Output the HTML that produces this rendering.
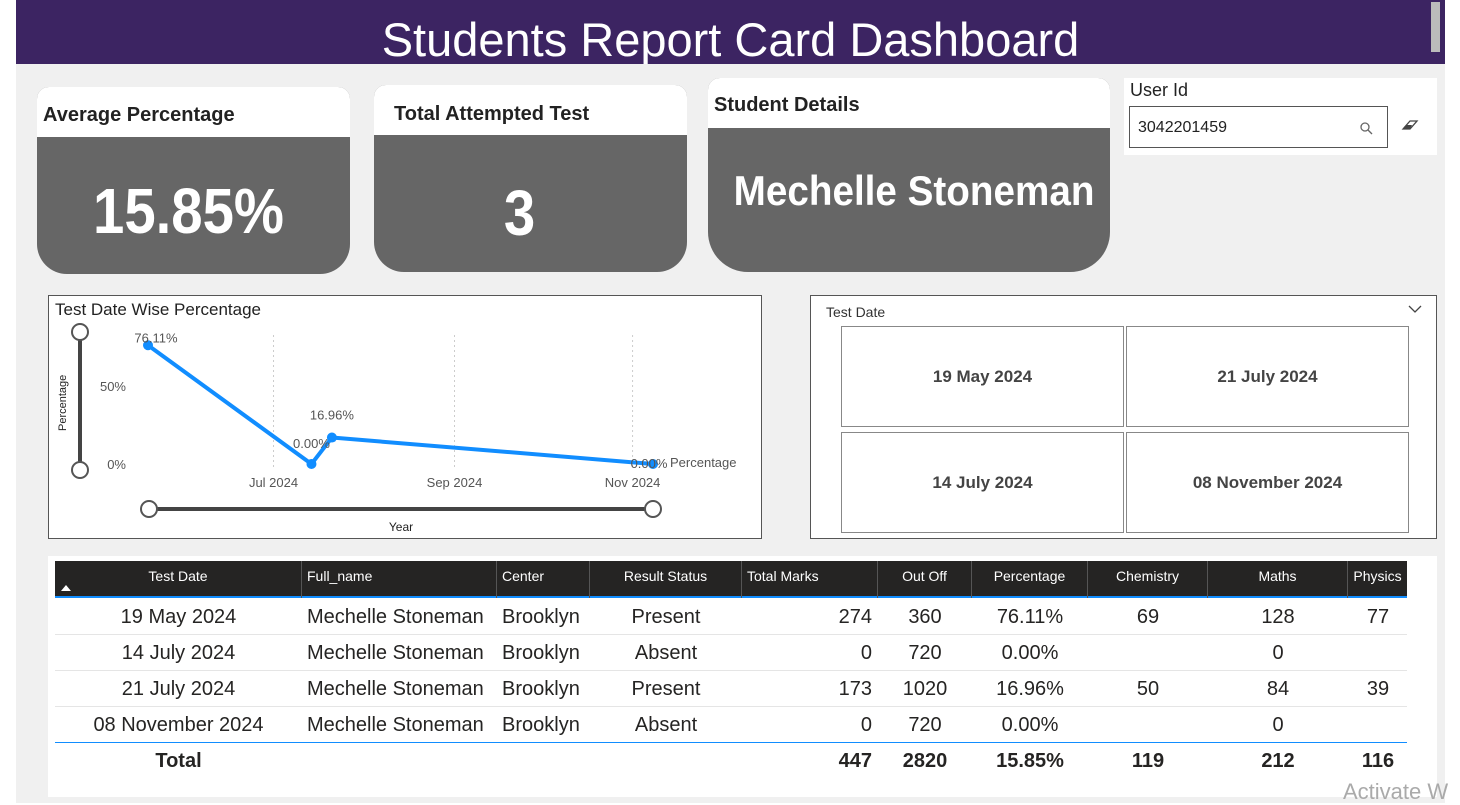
<!DOCTYPE html>
<html><head><meta charset="utf-8"><style>
*{box-sizing:border-box;margin:0;padding:0}
body{width:1460px;height:803px;background:#fff;font-family:"Liberation Sans","DejaVu Sans",sans-serif;position:relative;overflow:hidden}
.abs{position:absolute}
.canvas{left:16px;top:0;width:1429px;height:803px;background:#f0f0f0}
.hdr{left:16px;top:0;width:1429px;height:64px;background:#3c2462;color:#fff;font-size:47px;text-align:center;line-height:80px;overflow:hidden}
.card{background:#666;color:#fff;overflow:hidden}
.card .t{background:#fff;color:#222;font-weight:bold;font-size:20px;padding-left:6px}
.big{font-weight:bold;text-align:center;white-space:nowrap}
.th{position:absolute;top:0;height:37px;line-height:30px;color:#fff;font-size:14px;border-right:1px solid #555}
.td{position:absolute;font-size:20px;color:#252423;height:36px;line-height:36px;white-space:nowrap}
.tile{position:absolute;background:#fff;border:1px solid #888;font-weight:bold;font-size:17px;color:#444;text-align:center;line-height:100px}
</style></head><body>
<div class="abs canvas"></div>
<div class="abs hdr">Students Report Card Dashboard</div>
<div class="abs" style="left:1431px;top:2px;width:9px;height:50px;background:#bbb"></div>

<div class="abs card" style="left:37px;top:87px;width:313px;height:187px;border-radius:12px 12px 30px 30px">
<div class="t" style="height:50px;line-height:56px">Average Percentage</div>
<div class="big" style="font-size:64px;line-height:140px;margin-top:4px;transform:scaleX(0.88);margin-left:-10px">15.85%</div></div>
<div class="abs card" style="left:374px;top:85px;width:313px;height:187px;border-radius:12px 12px 30px 30px">
<div class="t" style="height:50px;line-height:58px;padding-left:20px">Total Attempted Test</div>
<div class="big" style="font-size:64px;line-height:160px;margin-top:-2px;transform:scaleX(0.88);margin-left:-22px">3</div></div>
<div class="abs card" style="left:708px;top:78px;width:402px;height:194px;border-radius:12px 12px 40px 40px">
<div class="t" style="height:50px;line-height:54px">Student Details</div>
<div class="big" style="font-size:42px;line-height:126px;margin-top:0px;transform:scaleX(0.92);margin-left:10px">Mechelle Stoneman</div></div>

<div class="abs" style="left:1124px;top:78px;width:313px;height:77px;background:#fff">
<div class="abs" style="left:6px;top:2px;font-size:18px;color:#222">User Id</div>
<div class="abs" style="left:5px;top:28px;width:259px;height:42px;border:1px solid #555;font-size:16px;line-height:42px;padding-left:8px;color:#222">3042201459
<svg class="abs" style="right:14px;top:15px" width="13" height="13"><circle cx="5" cy="5" r="4" fill="none" stroke="#666" stroke-width="1.3"/><line x1="8" y1="8" x2="12" y2="12" stroke="#666" stroke-width="1.3"/></svg></div>
<svg class="abs" style="left:276px;top:40px" width="20" height="14"><path d="M3 11 L10 3 L17 3 L10 11 Z" fill="none" stroke="#444" stroke-width="1.3"/><path d="M3 11 L7 7 L12 7 L10 11Z" fill="#444"/></svg>
</div>

<div class="abs" style="left:48px;top:295px;width:714px;height:244px;background:#fff;border:1px solid #555">
<svg id="chart" width="714" height="244" style="position:absolute;left:-1px;top:-1px"></svg></div>

<div class="abs" style="left:810px;top:295px;width:627px;height:244px;background:#fff;border:1px solid #555">
<div class="abs" style="left:15px;top:8px;font-size:14px;color:#333">Test Date</div>
<svg class="abs" style="left:597px;top:9px" width="14" height="9"><path d="M1 1 L7 7 L13 1" fill="none" stroke="#444" stroke-width="1.3"/></svg>
<div class="tile" style="left:30px;top:30px;width:283px;height:101px">19 May 2024</div>
<div class="tile" style="left:315px;top:30px;width:283px;height:101px">21 July 2024</div>
<div class="tile" style="left:30px;top:136px;width:283px;height:101px">14 July 2024</div>
<div class="tile" style="left:315px;top:136px;width:283px;height:101px">08 November 2024</div>
</div>

<div class="abs" style="left:48px;top:556px;width:1389px;height:241px;background:#fff">
<div class="abs" style="left:7px;top:5px;width:1352px;height:37px;background:#252423;border-bottom:2px solid #118dff" id="thead"></div>
<div id="tbody"></div>
</div>
<div class="abs" style="left:1343px;top:779px;font-size:22px;color:#aaa">Activate W</div>

<script>
// chart data
const dates=["2024-05-19","2024-07-14","2024-07-21","2024-11-08"];
const pcts=[76.11,0,16.96,0];
const pctLabels=["76.11%","0.00%","16.96%","0.00%"];
const xTicks=["2024-07-01","2024-09-01","2024-11-01"];
const xTickLabels=["Jul 2024","Sep 2024","Nov 2024"];
const yTicks=[0,50];
const yTickLabels=["0%","50%"];
const svg=document.getElementById('chart');
const NS='http://www.w3.org/2000/svg';
const t0=Date.parse("2024-05-19"),t1=Date.parse("2024-11-08");
function X(d){return 100+(Date.parse(d)-t0)/(t1-t0)*505;}
function Y(v){return 169-v*1.56;}
function mk(tag,attrs,txt){const e=document.createElementNS(NS,tag);for(const k in attrs)e.setAttribute(k,attrs[k]);if(txt!==undefined)e.textContent=txt;svg.appendChild(e);return e;}
let e=mk('text',{x:7,y:20,'font-size':17,fill:'#222'},'Test Date Wise Percentage');


e=mk('line',{x1:32,y1:37,x2:32,y2:175,stroke:'#444','stroke-width':4});


[37,175].forEach(y=>{const c=mk('circle',{cx:32,cy:y,r:8,fill:'#fff',stroke:'#555','stroke-width':2});

});
e=mk('text',{x:0,y:0,'font-size':11,fill:'#222',transform:'translate(18,136) rotate(-90)'},'Percentage');


yTicks.forEach((v,i)=>{const t=mk('text',{x:78,y:Y(v)+5,'font-size':13,fill:'#555','text-anchor':'end'},yTickLabels[i]);

});
xTicks.forEach((d,i)=>{const l=mk('line',{x1:X(d),y1:40,x2:X(d),y2:172,stroke:'#ccc','stroke-dasharray':'2,3'});


const t=mk('text',{x:X(d),y:192,'font-size':13,fill:'#555','text-anchor':'middle'},xTickLabels[i]);

});
e=mk('polyline',{points:dates.map((d,i)=>X(d)+','+Y(pcts[i])).join(' '),fill:'none',stroke:'#118dff','stroke-width':4,'stroke-linejoin':'round'});


const lblOff=[[8,-3],[0,-16],[0,-18],[-4,4]];
dates.forEach((d,i)=>{const c=mk('circle',{cx:X(d),cy:Y(pcts[i]),r:5,fill:'#118dff'});


const t=mk('text',{x:X(d)+lblOff[i][0],y:Y(pcts[i])+lblOff[i][1],'font-size':13,fill:'#555','text-anchor':'middle'},pctLabels[i]);

});
e=mk('text',{x:622,y:172,'font-size':13,fill:'#555'},'Percentage');


e=mk('line',{x1:101,y1:214,x2:605,y2:214,stroke:'#444','stroke-width':4});


[101,605].forEach(x=>{const c=mk('circle',{cx:x,cy:214,r:8,fill:'#fff',stroke:'#555','stroke-width':2});

});
e=mk('text',{x:353,y:236,'font-size':12,fill:'#222','text-anchor':'middle'},'Year');



// table
const cols=[[0,247,'Test Date','c'],[247,195,'Full_name','l'],[442,93,'Center','l'],[535,152,'Result Status','c'],[687,136,'Total Marks','l'],[823,94,'Out Off','c'],[917,116,'Percentage','c'],[1033,120,'Chemistry','c'],[1153,140,'Maths','c'],[1293,59,'Physics','c']];
const th=document.getElementById('thead');
cols.forEach(c=>{const d=document.createElement('div');d.className='th';d.style.left=c[0]+'px';d.style.width=c[1]+'px';
d.style.textAlign=c[3]=='c'?'center':'left';d.style.paddingLeft=c[3]=='l'?'5px':'0';d.textContent=c[2];
if(c[2]=='Physics')d.style.borderRight='none';


th.appendChild(d);});
const arrow=document.createElement('div');arrow.className='abs';arrow.style.cssText='left:6px;top:24px;width:0;height:0;border-left:5px solid transparent;border-right:5px solid transparent;border-bottom:6px solid #fff';


th.appendChild(arrow);
const rows=[["19 May 2024","Mechelle Stoneman","Brooklyn","Present","274","360","76.11%","69","128","77"],
["14 July 2024","Mechelle Stoneman","Brooklyn","Absent","0","720","0.00%","","0",""],
["21 July 2024","Mechelle Stoneman","Brooklyn","Present","173","1020","16.96%","50","84","39"],
["08 November 2024","Mechelle Stoneman","Brooklyn","Absent","0","720","0.00%","","0",""],
["Total","","","","447","2820","15.85%","119","212","116"]];
const tb=document.getElementById('tbody');
rows.forEach((r,ri)=>{const top=43+ri*36;const rowEl=document.createElement('div');rowEl.className='abs';
rowEl.style.cssText='left:7px;top:'+top+'px;width:1352px;height:36px;border-bottom:1px solid '+(ri==3?'#118dff':(ri==4?'transparent':'#e5e5e5'));


r.forEach((v,ci)=>{const c=cols[ci];const d=document.createElement('div');d.className='td';d.style.left=c[0]+'px';d.style.width=c[1]+'px';
if(ci==4){d.style.textAlign='right';d.style.paddingRight='6px';}
else if(ci==1||ci==2){d.style.textAlign='left';d.style.paddingLeft='5px';}
else d.style.textAlign='center';
if(ci==9){d.style.left='1293px';d.style.width='60px';}
if(ri==4)d.style.fontWeight='bold';
d.textContent=v;


rowEl.appendChild(d);});
tb.appendChild(rowEl);});
</script>
</body></html>
